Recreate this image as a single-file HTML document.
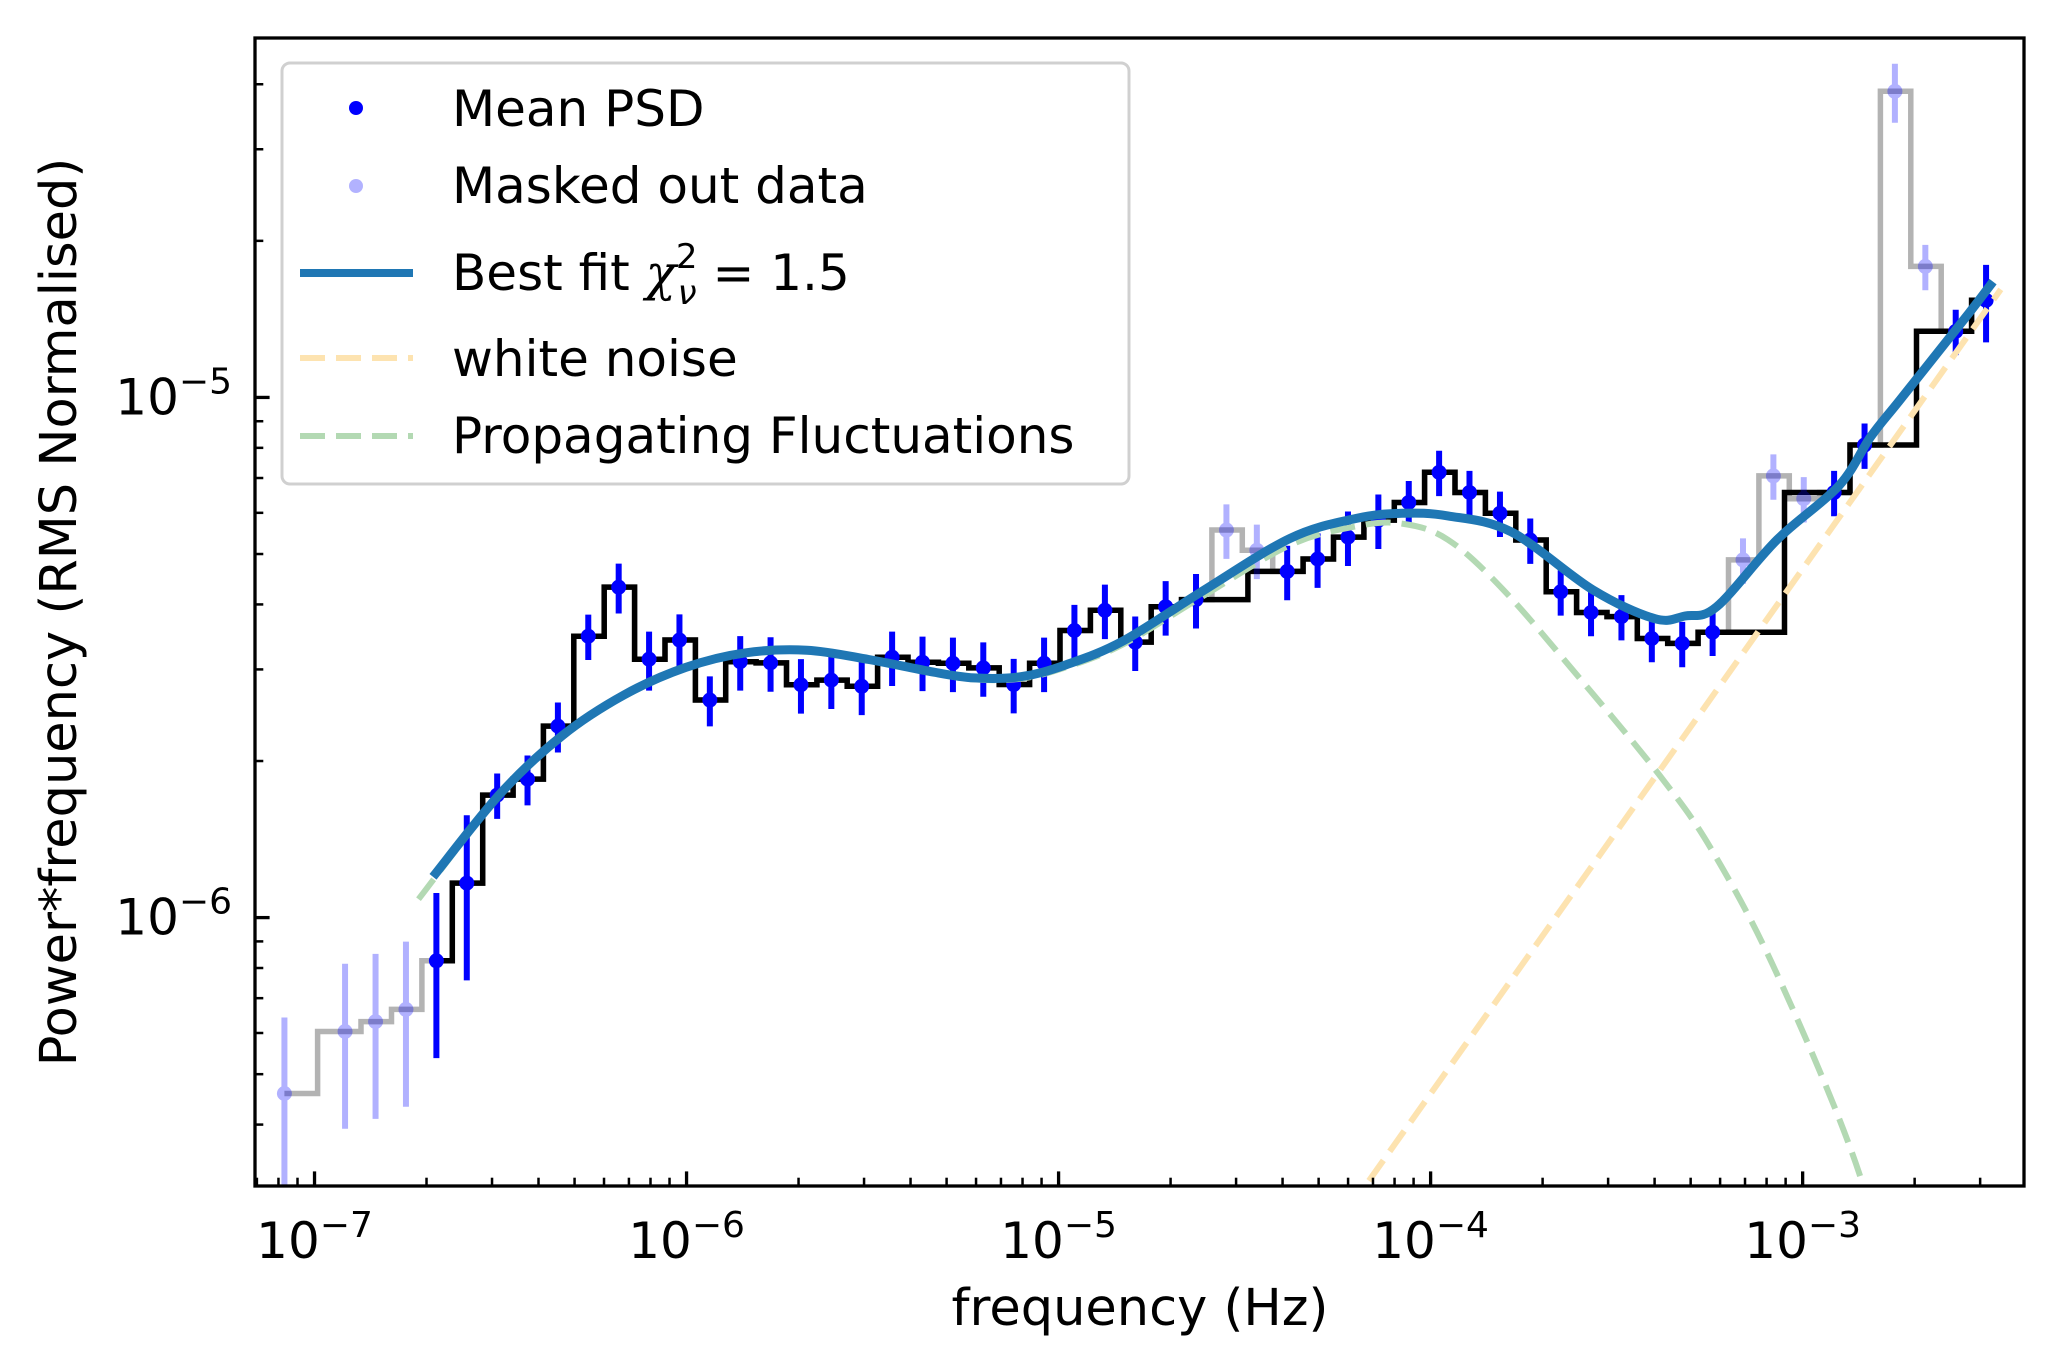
<!DOCTYPE html>
<html><head><meta charset="utf-8"><title>PSD fit</title>
<style>
html,body{margin:0;padding:0;background:#fff;}
svg{display:block;font-family:"DejaVu Sans","Liberation Sans",sans-serif;}
</style></head>
<body>
<svg id="chart" width="2048" height="1365" viewBox="0 0 2048 1365" xmlns="http://www.w3.org/2000/svg">
  <defs><clipPath id="plotclip"><rect x="255" y="38" width="1769" height="1148"/></clipPath></defs>
  <rect x="0" y="0" width="2048" height="1365" fill="#fff"/>
  <g id="plot" clip-path="url(#plotclip)"></g>
  <g id="axes"></g>
  <text x="1140" y="1325" font-size="51" text-anchor="middle">frequency (Hz)</text>
  <text transform="translate(76,612) rotate(-90)" font-size="51" text-anchor="middle">Power*frequency (RMS Normalised)</text>
  <g id="legend">
    <rect x="282" y="63" width="847" height="421" rx="8" fill="#fff" fill-opacity="0.8" stroke="#d0d0d0" stroke-width="3"/>
    <g>
      <circle cx="356" cy="108" r="7" fill="#0000ff"/>
      <text x="452" y="126" font-size="50">Mean PSD</text>
    </g>
    <g>
      <circle cx="356" cy="186" r="7" fill="#0000ff" fill-opacity="0.3"/>
      <text x="452" y="203" font-size="50">Masked out data</text>
    </g>
    <g>
      <line x1="300" y1="273" x2="413" y2="273" stroke="#1f77b4" stroke-width="8"/>
      <text x="452" y="290" font-size="50">Best fit <tspan font-style="italic" font-family="'DejaVu Serif','Liberation Serif',serif">χ</tspan><tspan font-size="34" dy="-22">2</tspan><tspan font-size="34" font-style="italic" dx="-20" dy="36">ν</tspan><tspan dy="-14"> = 1.5</tspan></text>
    </g>
    <g>
      <line x1="300" y1="358" x2="413" y2="358" stroke="#fde3b0" stroke-width="6" stroke-dasharray="25,11"/>
      <text x="452" y="376" font-size="50">white noise</text>
    </g>
    <g>
      <line x1="300" y1="436" x2="413" y2="436" stroke="#b3d9b3" stroke-width="6" stroke-dasharray="25,11"/>
      <text x="452" y="453" font-size="50">Propagating Fluctuations</text>
    </g>
  </g>
</svg>
<script>
// ---- data ----
const freq = [8.30e-8, 1.208e-7, 1.459e-7, 1.761e-7, 2.126e-7, 2.566e-7, 3.097e-7, 3.737e-7, 4.510e-7, 5.443e-7, 6.570e-7, 7.930e-7, 9.57e-7, 1.155e-6, 1.394e-6, 1.682e-6, 2.030e-6, 2.450e-6, 2.957e-6, 3.569e-6, 4.308e-6, 5.200e-6, 6.275e-6, 7.574e-6, 9.142e-6, 1.103e-5, 1.332e-5, 1.607e-5, 1.940e-5, 2.341e-5, 2.826e-5, 3.411e-5, 4.116e-5, 4.968e-5, 5.996e-5, 7.237e-5, 8.735e-5, 1.054e-4, 1.272e-4, 1.536e-4, 1.853e-4, 2.237e-4, 2.699e-4, 3.258e-4, 3.932e-4, 4.746e-4, 5.728e-4, 6.913e-4, 8.344e-4, 1.007e-3, 1.215e-3, 1.467e-3, 1.770e-3, 2.137e-3, 2.579e-3, 3.112e-3];
const power = [4.59e-7, 6.04e-7, 6.31e-7, 6.66e-7, 8.26e-7, 1.165e-6, 1.72e-6, 1.846e-6, 2.334e-6, 3.475e-6, 4.318e-6, 3.139e-6, 3.417e-6, 2.62e-6, 3.104e-6, 3.088e-6, 2.803e-6, 2.861e-6, 2.784e-6, 3.167e-6, 3.097e-6, 3.083e-6, 3.02e-6, 2.806e-6, 3.083e-6, 3.564e-6, 3.898e-6, 3.385e-6, 3.96e-6, 4.087e-6, 5.56e-6, 5.085e-6, 4.63e-6, 4.891e-6, 5.388e-6, 5.809e-6, 6.281e-6, 7.178e-6, 6.566e-6, 5.99e-6, 5.319e-6, 4.23e-6, 3.86e-6, 3.79e-6, 3.44e-6, 3.366e-6, 3.537e-6, 4.871e-6, 7.066e-6, 6.388e-6, 6.566e-6, 8.1e-6, 3.877e-5, 1.786e-5, 1.34e-5, 1.537e-5];
const errFrac = [0.40,0.35,0.35,0.35,0.35,0.35, 0.10,0.11,0.11,0.10,0.11, 0.13,0.12,0.11,0.12,0.12,0.12,0.12, 0.12,0.12,0.12,0.12,0.12,0.12,0.12,0.12,0.12,0.12,0.12,0.12,0.12,0.12,0.12,0.12,0.12,0.12, 0.10,0.10,0.10,0.10,0.10,0.10,0.10,0.10,0.10,0.10,0.10,0.10,0.10,0.10,0.10,0.10,0.13,0.10,0.10,0.17];
const masked = [1,1,1,1,0,0,0,0,0,0,0,0,0,0,0,0,0,0,0,0,0,0,0,0,0,0,0,0,0,0,1,1,0,0,0,0,0,0,0,0,0,0,0,0,0,0,0,1,1,1,0,0,1,1,0,0];
const fitFreq = [2.082e-7, 3.153e-7, 4.625e-7, 6.785e-7, 9.952e-7, 1.436e-6, 2.106e-6, 3.088e-6, 4.493e-6, 5.927e-6, 7.948e-6, 1.048e-5, 1.489e-5, 2.406e-5, 4.189e-5, 6.295e-5, 8.370e-5, 1.113e-4, 1.646e-4, 2.729e-4, 4.0e-4, 4.828e-4, 5.870e-4, 8.54e-4, 1.252e-3, 1.523e-3, 1.837e-3, 2.693e-3, 3.249e-3];
const fitValues = [1.198e-6, 1.730e-6, 2.236e-6, 2.679e-6, 3.027e-6, 3.228e-6, 3.266e-6, 3.135e-6, 2.975e-6, 2.889e-6, 2.906e-6, 3.063e-6, 3.40e-6, 4.219e-6, 5.359e-6, 5.85e-6, 5.988e-6, 5.919e-6, 5.517e-6, 4.268e-6, 3.756e-6, 3.8e-6, 3.958e-6, 5.328e-6, 6.766e-6, 8.396e-6, 9.94e-6, 1.402e-5, 1.670e-5];
const propFreq = [1.903e-7, 3.153e-7, 4.625e-7, 6.785e-7, 9.952e-7, 1.436e-6, 2.106e-6, 3.088e-6, 4.493e-6, 5.927e-6, 7.948e-6, 1.048e-5, 1.489e-5, 2.406e-5, 4.189e-5, 6.295e-5, 8.37e-5, 1.113e-4, 1.568e-4, 2.495e-4, 4.1e-4, 5.681e-4, 8.54e-4, 1.415e-3, 1.8e-3];
const propValues = [1.085e-6, 1.72e-6, 2.22e-6, 2.66e-6, 3.01e-6, 3.21e-6, 3.25e-6, 3.12e-6, 2.96e-6, 2.87e-6, 2.88e-6, 3.03e-6, 3.35e-6, 4.12e-6, 5.2e-6, 5.65e-6, 5.72e-6, 5.328e-6, 4.268e-6, 2.906e-6, 1.888e-6, 1.354e-6, 7.78e-7, 3.246e-7, 1.6e-7];
const whiteFreq = [6.0e-5, 3.41e-3];
const whiteValues = [2.74e-7, 1.613e-5];
const xTickValues = [1e-7, 1e-6, 1e-5, 1e-4, 1e-3];
const xTickExp = ["−7", "−6", "−5", "−4", "−3"];
const yTickValues = [1e-6, 1e-5];
const yTickExp = ["−6", "−5"];

// ---- axes ----
const L = 255, R = 2024, T = 38, B = 1186;
const LXMIN = -7.160, LXMAX = -2.405, LYMIN = -6.516, LYMAX = -4.309;
function xs(f){ return L + (Math.log10(f) - LXMIN) / (LXMAX - LXMIN) * (R - L); }
function ys(p){ return B - (Math.log10(p) - LYMIN) / (LYMAX - LYMIN) * (B - T); }
const NS = "http://www.w3.org/2000/svg";
function mk(tag, attrs, parent){ const e = document.createElementNS(NS, tag); for (const k in attrs) e.setAttribute(k, attrs[k]); parent.appendChild(e); return e; }
const plot = document.getElementById('plot');
const axes = document.getElementById('axes');

function stepPath(fs, ps){
  let d = 'M' + xs(fs[0]).toFixed(1) + ',' + ys(ps[0]).toFixed(1);
  for (let i = 0; i < fs.length - 1; i++){
    const m = (fs[i] + fs[i+1]) / 2;
    d += ' H' + xs(m).toFixed(1) + ' V' + ys(ps[i+1]).toFixed(1);
  }
  d += ' H' + xs(fs[fs.length-1]).toFixed(1);
  return d;
}
function linePath(fs, ps){
  return fs.map((f, i) => (i ? 'L' : 'M') + xs(f).toFixed(1) + ',' + ys(ps[i]).toFixed(1)).join(' ');
}
function smoothPath(fs, ps){
  const P = fs.map((f, i) => [xs(f), ys(ps[i])]);
  let d = 'M' + P[0][0].toFixed(1) + ',' + P[0][1].toFixed(1);
  for (let i = 0; i < P.length - 1; i++){
    const p0 = P[Math.max(i-1,0)], p1 = P[i], p2 = P[i+1], p3 = P[Math.min(i+2,P.length-1)];
    const c1 = [p1[0] + (p2[0]-p0[0])/6, p1[1] + (p2[1]-p0[1])/6];
    const c2 = [p2[0] - (p3[0]-p1[0])/6, p2[1] - (p3[1]-p1[1])/6];
    d += ' C' + c1[0].toFixed(1)+','+c1[1].toFixed(1)+' '+c2[0].toFixed(1)+','+c2[1].toFixed(1)+' '+p2[0].toFixed(1)+','+p2[1].toFixed(1);
  }
  return d;
}

const grey = mk('path', {d: stepPath(freq, power), fill: 'none', stroke: '#b3b3b3', 'stroke-width': 5.5}, plot);


const uf = [], up = [];
freq.forEach((f, i) => { if (!masked[i]) { uf.push(f); up.push(power[i]); } });
const black = mk('path', {d: stepPath(uf, up), fill: 'none', stroke: '#000', 'stroke-width': 5.5}, plot);



freq.forEach((f, i) => {
  const p = power[i], e = p * errFrac[i];
  const lo = Math.max(p - e, 1e-9);
  const op = masked[i] ? 0.3 : 1;
  const g = mk('g', {opacity: op}, plot);
  
  
  mk('line', {x1: xs(f), x2: xs(f), y1: ys(p + e), y2: ys(lo), stroke: '#0000ff', 'stroke-width': 6}, g);
  mk('circle', {cx: xs(f), cy: ys(p), r: 7.5, fill: '#0000ff'}, g);
});

const prop = mk('path', {d: smoothPath(propFreq, propValues), fill: 'none', stroke: '#b3d9b3', 'stroke-width': 6, 'stroke-dasharray': '25,11'}, plot);


const white = mk('path', {d: linePath(whiteFreq, whiteValues), fill: 'none', stroke: '#fde3b0', 'stroke-width': 6, 'stroke-dasharray': '25,11'}, plot);


const fit = mk('path', {d: smoothPath(fitFreq, fitValues), fill: 'none', stroke: '#1f77b4', 'stroke-width': 9, 'stroke-linejoin': 'round'}, plot);



const frame = mk('rect', {x: L, y: T, width: R - L, height: B - T, fill: 'none', stroke: '#000', 'stroke-width': 3.3}, axes);



for (let d = -8; d <= -2; d++){
  for (let m = 1; m <= 9; m++){
    const v = m * Math.pow(10, d);
    const lx = Math.log10(v);
    if (lx < LXMIN || lx > LXMAX) continue;
    const x = xs(v), len = m === 1 ? 14.6 : 8.3;
    const t = mk('line', {x1: x, x2: x, y1: B, y2: B - len, stroke: '#000', 'stroke-width': m === 1 ? 3.3 : 2.5}, axes);
    
    
  }
}
xTickValues.forEach((v, i) => {
  const t = mk('text', {x: xs(v), y: 1258, 'font-size': 50, 'text-anchor': 'middle'}, axes);
  
  
  t.appendChild(document.createTextNode('10'));
  const s = mk('tspan', {'font-size': 36, dy: -21}, t);
  s.textContent = xTickExp[i];
});
for (let d = -7; d <= -4; d++){
  for (let m = 1; m <= 9; m++){
    const v = m * Math.pow(10, d);
    const ly = Math.log10(v);
    if (ly < LYMIN || ly > LYMAX) continue;
    const y = ys(v), len = m === 1 ? 14.6 : 8.3;
    const t = mk('line', {x1: L, x2: L + len, y1: y, y2: y, stroke: '#000', 'stroke-width': m === 1 ? 3.3 : 2.5}, axes);
    
    
  }
}
yTickValues.forEach((v, i) => {
  const t = mk('text', {x: 232, y: ys(v) + 17, 'font-size': 50, 'text-anchor': 'end'}, axes);
  
  
  t.appendChild(document.createTextNode('10'));
  const s = mk('tspan', {'font-size': 36, dy: -21}, t);
  s.textContent = yTickExp[i];
});
</script>
</body></html>
